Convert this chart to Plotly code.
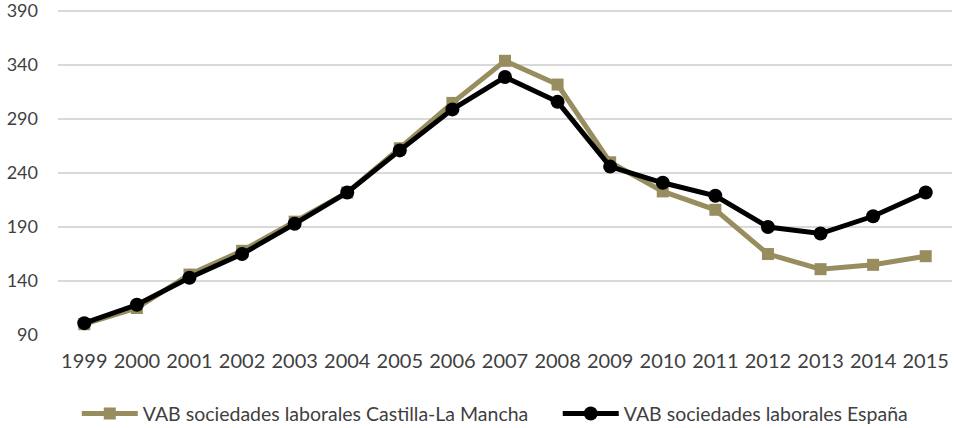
import plotly.graph_objects as go

years = ["1999", "2000", "2001", "2002", "2003", "2004", "2005", "2006", "2007",
         "2008", "2009", "2010", "2011", "2012", "2013", "2014", "2015"]
castilla = [100, 115, 146, 168, 195, 222, 263, 305, 344, 322, 250, 223, 206, 165, 151, 155, 163]
espana = [101, 118, 143, 165, 193, 222, 261, 299, 329, 306, 246, 231, 219, 190, 184, 200, 222]

name_c = "VAB sociedades laborales Castilla-La Mancha"
name_e = "VAB sociedades laborales España"
y_ticks = [90, 140, 190, 240, 290, 340, 390]

TAN = "#978D5E"
TXT = "#3F3F3F"

fig = go.Figure()
fig.add_trace(go.Scatter(x=years, y=castilla, name=name_c, mode="lines+markers",
                         legend="legend",
                         line=dict(color=TAN, width=5),
                         marker=dict(symbol="square", size=12, color=TAN)))
fig.add_trace(go.Scatter(x=years, y=espana, name=name_e, mode="lines+markers",
                         legend="legend2",
                         line=dict(color="#000000", width=5),
                         marker=dict(symbol="circle", size=14, color="#000000")))

leg_common = dict(orientation="h", y=-0.242, yanchor="middle", xanchor="left",
                  font=dict(family="Lato, sans-serif", size=19.5, color=TXT),
                  bgcolor="rgba(0,0,0,0)", itemwidth=56)

fig.update_layout(
    width=959, height=428,
    margin=dict(l=58, r=7, t=9, b=93, autoexpand=False),
    paper_bgcolor="white", plot_bgcolor="white",
    font=dict(family="Lato, sans-serif", size=19, color=TXT),
    showlegend=True,
    legend=dict(x=0.021, **leg_common),
    legend2=dict(x=0.559, **leg_common),
    xaxis=dict(type="category", range=[-0.5, 16.5], showgrid=False, zeroline=False,
               showline=False, ticks="", tickfont=dict(size=20), ticklabelstandoff=12),
    yaxis=dict(range=[90, 392], tickvals=y_ticks, showgrid=True, gridcolor="#D9D9D9",
               gridwidth=1.5, zeroline=False, showline=False, ticks="",
               tickfont=dict(size=18), ticklabelstandoff=19, ticklabeloverflow="allow"),
)

fig.write_html("out.html", config={"displayModeBar": False},
               post_script="document.body.style.margin='0';")
